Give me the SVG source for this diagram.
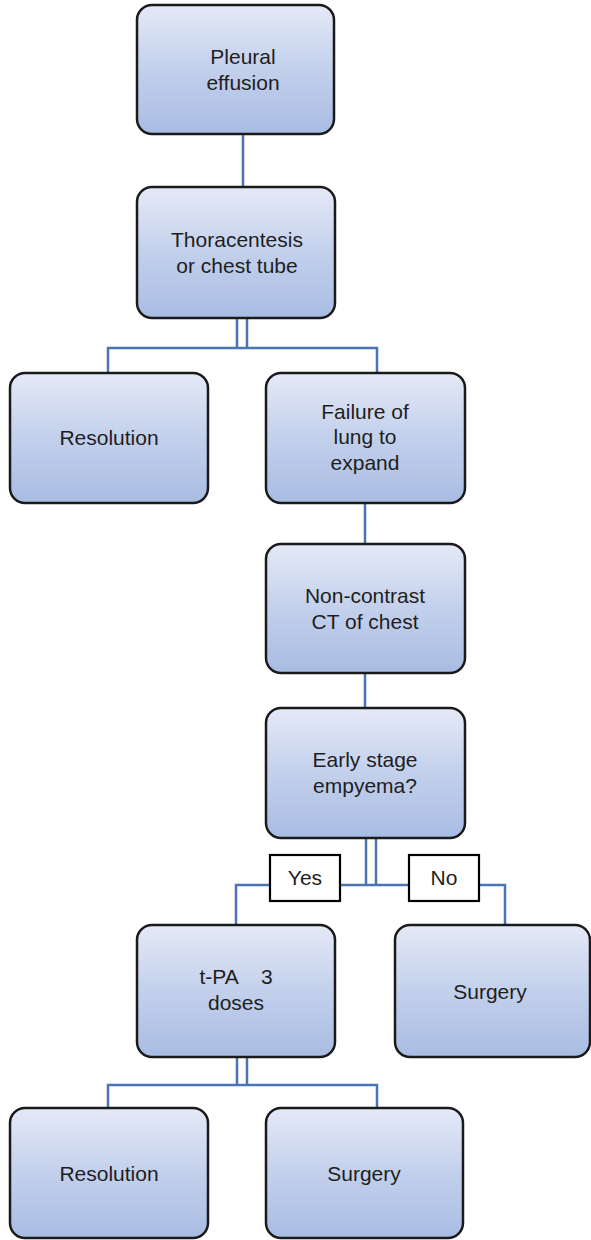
<svg xmlns="http://www.w3.org/2000/svg" width="591" height="1240" viewBox="0 0 591 1240">
  <defs>
    <linearGradient id="boxFill" x1="0" y1="0" x2="0" y2="1">
      <stop offset="0" stop-color="#e4e9f6"/>
      <stop offset="0.5" stop-color="#c3d0ec"/>
      <stop offset="1" stop-color="#a8bce3"/>
    </linearGradient>
    <style>
      .box { fill: url(#boxFill); stroke: #1a1a1a; stroke-width: 2.5; }
      .lbl { font-family: "Liberation Sans", Arial, sans-serif; font-size: 21px; fill: #1e1e1e; text-anchor: middle; }
      .tag { fill: #ffffff; stroke: #000000; stroke-width: 2.2; }
      .conn { fill: none; stroke: #4a74b2; stroke-width: 2.5; }
    </style>
  </defs>
  <rect width="591" height="1240" fill="#ffffff"/>

  <!-- connectors -->
  <g id="connectors" class="conn">
    <path d="M243 134 V187"/>
    <path d="M237 318 V348 M247 318 V348 M108 376 V348 H377 V376"/>
    <path d="M365 503 V544"/>
    <path d="M365 673 V708"/>
    <path d="M366 838 V885 M376 838 V885 M236 930 V885 H505 V930"/>
    <path d="M237 1057 V1085 M247 1057 V1085 M108 1113 V1085 H377 V1113"/>
  </g>

  <g id="n-pleural">
    <rect class="box" x="137" y="5" width="197" height="129" rx="15"/>
    <text class="lbl" x="243" y="64">Pleural</text>
    <text class="lbl" x="243" y="90">effusion</text>
  </g>

  <g id="n-thoracentesis">
    <rect class="box" x="137" y="187" width="198" height="131" rx="15"/>
    <text class="lbl" x="237" y="247">Thoracentesis</text>
    <text class="lbl" x="237" y="273">or chest tube</text>
  </g>

  <g id="n-resolution1">
    <rect class="box" x="10" y="373" width="198" height="130" rx="15"/>
    <text class="lbl" x="109" y="445">Resolution</text>
  </g>

  <g id="n-failure">
    <rect class="box" x="266" y="373" width="199" height="130" rx="15"/>
    <text class="lbl" x="365" y="419">Failure of</text>
    <text class="lbl" x="365" y="444">lung to</text>
    <text class="lbl" x="365" y="470">expand</text>
  </g>

  <g id="n-ct">
    <rect class="box" x="266" y="544" width="199" height="129" rx="15"/>
    <text class="lbl" x="365" y="603">Non-contrast</text>
    <text class="lbl" x="365" y="629">CT of chest</text>
  </g>

  <g id="n-empyema">
    <rect class="box" x="266" y="708" width="199" height="130" rx="15"/>
    <text class="lbl" x="365" y="767">Early stage</text>
    <text class="lbl" x="365" y="793">empyema?</text>
  </g>

  <g id="tag-yes">
    <rect class="tag" x="270" y="855" width="70" height="46"/>
    <text class="lbl" x="305" y="885">Yes</text>
  </g>

  <g id="tag-no">
    <rect class="tag" x="409" y="855" width="70" height="46"/>
    <text class="lbl" x="444" y="885">No</text>
  </g>

  <g id="n-tpa">
    <rect class="box" x="137" y="925" width="198" height="132" rx="15"/>
    <text class="lbl" x="236" y="984" xml:space="preserve">t-PA    3</text>
    <text class="lbl" x="236" y="1010">doses</text>
  </g>

  <g id="n-surgery1">
    <rect class="box" x="395" y="925" width="195" height="132" rx="15"/>
    <text class="lbl" x="490" y="999">Surgery</text>
  </g>

  <g id="n-resolution2">
    <rect class="box" x="10" y="1108" width="198" height="130" rx="15"/>
    <text class="lbl" x="109" y="1181">Resolution</text>
  </g>

  <g id="n-surgery2">
    <rect class="box" x="266" y="1108" width="197" height="130" rx="15"/>
    <text class="lbl" x="364" y="1181">Surgery</text>
  </g>
</svg>
